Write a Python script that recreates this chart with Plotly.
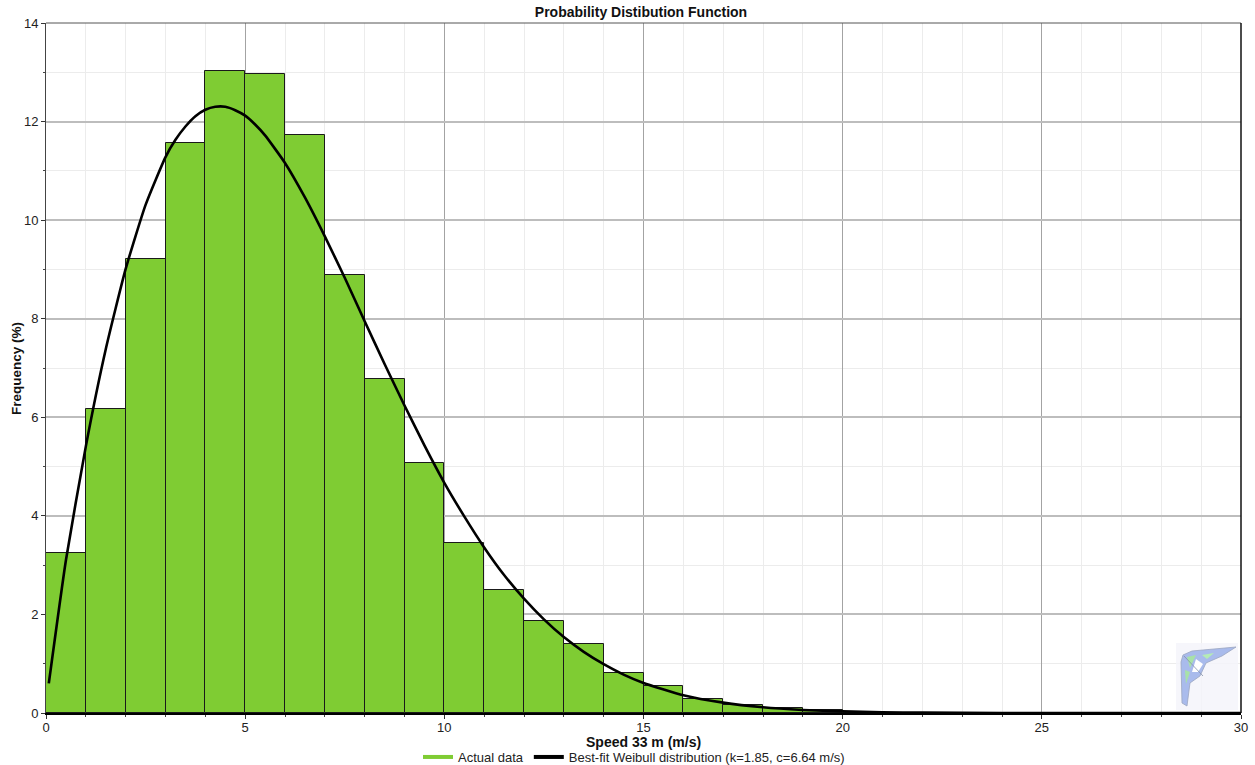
import plotly.graph_objects as go

# Histogram of measured wind speed, 1 m/s bins
bin_left = list(range(0, 30))
freq_pct = [3.25, 6.17, 9.21, 11.57, 13.03, 12.97, 11.72, 8.88, 6.77, 5.08,
            3.45, 2.50, 1.87, 1.39, 0.81, 0.54, 0.28, 0.17, 0.10, 0.055,
            0.02, 0.01, 0, 0, 0, 0, 0, 0, 0, 0]

# Best-fit Weibull curve, sampled points
fit_speed = [0.07, 0.5, 1, 1.5, 2, 2.5, 3, 3.25, 3.5, 3.75, 4, 4.25, 4.5,
             4.75, 5, 5.25, 5.5, 6, 6.5, 7, 7.5, 8, 8.5, 9, 9.5, 10, 10.5,
             11, 11.5, 12, 12.5, 13, 13.5, 14, 14.5, 15, 16, 17, 18, 19, 20,
             21, 22, 24, 26, 28, 30]
fit_pct = [0.6, 3.1, 5.41, 7.38, 9.01, 10.31, 11.28, 11.63, 11.9, 12.11,
           12.24, 12.30, 12.30, 12.23, 12.12, 11.94, 11.72, 11.16, 10.46,
           9.67, 8.83, 7.95, 7.08, 6.24, 5.43, 4.67, 3.99, 3.36, 2.8, 2.32,
           1.9, 1.54, 1.24, 0.99, 0.78, 0.61, 0.36, 0.21, 0.116, 0.062,
           0.032, 0.016, 0.008, 0.0015, 0.0002, 0, 0]

x_ticks = [0, 5, 10, 15, 20, 25, 30]
y_ticks = [0, 2, 4, 6, 8, 10, 12, 14]

BAR_GREEN = "#7fcc33"
FONT = "Liberation Sans, Arial, sans-serif"

fig = go.Figure()

fig.add_trace(go.Bar(
    x=[b + 0.5 for b in bin_left], y=freq_pct, width=1,
    marker=dict(color=BAR_GREEN, line=dict(color="#1a1a1a", width=1)),
    name="Actual data", showlegend=False, hoverinfo="x+y",
))

fig.add_trace(go.Scatter(
    x=fit_speed, y=fit_pct, mode="lines",
    line=dict(color="black", width=2.6, shape="spline", smoothing=0.5),
    name="Best-fit Weibull distribution (k=1.85, c=6.64 m/s)",
    showlegend=False,
))

# Legend entries shown as short line keys
fig.add_trace(go.Scatter(x=[None], y=[None], mode="lines",
                         line=dict(color=BAR_GREEN, width=4),
                         name="Actual data"))
fig.add_trace(go.Scatter(x=[None], y=[None], mode="lines",
                         line=dict(color="black", width=4),
                         name="Best-fit Weibull distribution (k=1.85, c=6.64 m/s)"))

# Plot area in pixels: left 46, right 1241, top 23, bottom 713
W, H = 1255, 765
PL, PR, PT, PB = 46, 1241, 23, 713


def px(xp, yp):
    return (xp - PL) / (PR - PL), (PB - yp) / (PB - PT)


def path(points):
    pts = [px(a, b) for a, b in points]
    return "M " + " L ".join(f"{a:.5f},{b:.5f}" for a, b in pts) + " Z"


shapes = [
    # frame: top and right border
    dict(type="line", xref="paper", yref="paper", x0=0, x1=1, y0=1, y1=1,
         line=dict(color="#555555", width=1)),
    dict(type="line", xref="paper", yref="paper", x0=1, x1=1, y0=0, y1=1,
         line=dict(color="#111111", width=1.5)),
    # glider emblem, lower right
    dict(type="rect", xref="paper", yref="paper",
         x0=px(1176, 0)[0], x1=px(1238, 0)[0], y0=px(0, 710)[1], y1=px(0, 643)[1],
         fillcolor="rgba(244,244,250,0.85)", line=dict(width=0), layer="above"),
    dict(type="path", xref="paper", yref="paper", layer="above",
         path=path([(1183, 655), (1192, 651), (1236, 647), (1222, 656),
                    (1206, 663), (1200, 676), (1190, 683), (1187, 706),
                    (1182, 703), (1181, 662)]),
         fillcolor="#a9bbec", line=dict(color="#9aa6c0", width=0.8)),
    dict(type="path", xref="paper", yref="paper", layer="above",
         path=path([(1187, 657), (1196, 655), (1190, 668)]),
         fillcolor="#a8e2a8", line=dict(width=0)),
    dict(type="path", xref="paper", yref="paper", layer="above",
         path=path([(1202, 655), (1214, 653), (1207, 659)]),
         fillcolor="#b5ebb5", line=dict(width=0)),
    dict(type="path", xref="paper", yref="paper", layer="above",
         path=path([(1196, 659), (1203, 664), (1198, 672), (1192, 672)]),
         fillcolor="#ffffff", line=dict(width=0)),
    dict(type="path", xref="paper", yref="paper", layer="above",
         path=path([(1185, 670), (1190, 672), (1186, 684)]),
         fillcolor="#a8e2a8", line=dict(width=0)),
    dict(type="line", xref="paper", yref="paper", layer="above",
         x0=px(1184, 656)[0], y0=px(1184, 656)[1],
         x1=px(1203, 676)[0], y1=px(1203, 676)[1],
         line=dict(color="#8490a8", width=0.8)),
]

# Axis titles placed as annotations
annotations = [
    dict(text="<b>Speed 33 m (m/s)</b>", xref="paper", yref="paper",
         x=0.5, y=px(0, 742)[1], xanchor="center", yanchor="middle",
         showarrow=False, font=dict(family=FONT, size=14, color="#111111")),
    dict(text="<b>Frequency (%)</b>", xref="paper", yref="paper",
         x=px(17, 0)[0], y=px(0, 369)[1], xanchor="center", yanchor="middle",
         textangle=-90, showarrow=False,
         font=dict(family=FONT, size=13.5, color="#111111")),
]

fig.update_layout(
    width=W, height=H,
    margin=dict(l=PL, r=W - PR, t=PT, b=H - PB, autoexpand=False),
    paper_bgcolor="white", plot_bgcolor="white",
    font=dict(family=FONT, size=13, color="#222222"),
    title=dict(text="<b>Probability Distibution Function</b>",
               x=641 / W, xanchor="center",
               yref="container", y=1 - 12 / H, yanchor="middle",
               font=dict(family=FONT, size=14, color="#111111")),
    bargap=0,
    showlegend=True,
    legend=dict(orientation="h", x=634 / W, xanchor="center", xref="container",
                y=1 - 757 / H, yanchor="middle", yref="container",
                font=dict(family=FONT, size=13, color="#222222"),
                bgcolor="rgba(0,0,0,0)", itemwidth=30, tracegroupgap=0),
    shapes=shapes,
    annotations=annotations,
)

fig.update_xaxes(
    range=[0, 30], tickvals=x_ticks, ticktext=[str(v) for v in x_ticks],
    showgrid=True, gridcolor="#a3a3a3", gridwidth=1,
    minor=dict(dtick=1, tick0=0, showgrid=True, gridcolor="#ececec",
               gridwidth=1, ticks="outside", ticklen=2, tickcolor="#444"),
    showline=True, linecolor="black", linewidth=2,
    ticks="outside", ticklen=4, tickcolor="#333333", automargin=False,
    ticklabelstandoff=-3,
    zeroline=False, tickfont=dict(size=13, color="#222222"),
)

fig.update_yaxes(
    range=[0, 14], tickvals=y_ticks, ticktext=[str(v) for v in y_ticks],
    showgrid=True, gridcolor="#bdbdbd", gridwidth=1.6,
    minor=dict(dtick=1, tick0=0, showgrid=True, gridcolor="#ececec",
               gridwidth=1, ticks="outside", ticklen=2, tickcolor="#444"),
    showline=True, linecolor="#444444", linewidth=1,
    ticks="outside", ticklen=4, tickcolor="#333333", automargin=False,
    zeroline=False, tickfont=dict(size=13, color="#222222"),
)

fig.write_html("out.html")
